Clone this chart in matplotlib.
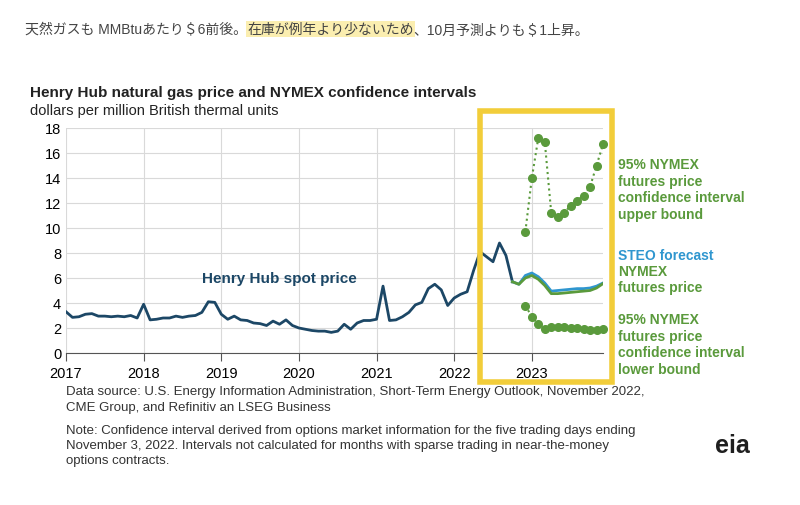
import numpy as np
import matplotlib
matplotlib.use("Agg")
import matplotlib.pyplot as plt
from matplotlib.patches import Rectangle

plt.rcParams['font.family'] = ['Liberation Sans', 'Noto Sans CJK JP', 'DejaVu Sans']

spot = [3.3, 2.85, 2.9, 3.1, 3.15, 2.95, 2.95, 2.9, 2.95, 2.9, 3.0, 2.8,
        3.9, 2.65, 2.7, 2.8, 2.8, 2.95, 2.85, 2.95, 3.0, 3.25, 4.1, 4.05,
        3.1, 2.7, 2.95, 2.65, 2.6, 2.4, 2.35, 2.2, 2.55, 2.3, 2.65, 2.2,
        2.0, 1.9, 1.8, 1.75, 1.75, 1.65, 1.75, 2.3, 1.9, 2.4, 2.6, 2.6,
        2.7, 5.35, 2.6, 2.65, 2.9, 3.25, 3.85, 4.05, 5.15, 5.5, 5.05, 3.8,
        4.4, 4.7, 4.9, 6.6, 8.1, 7.7, 7.3, 8.8, 7.8, 5.7]
steo = [5.7, 5.5, 6.2, 6.4, 6.1, 5.6, 4.95, 5.0, 5.05, 5.1, 5.15, 5.15, 5.2, 5.35, 5.6]
nymex = [5.7, 5.5, 6.0, 6.2, 5.9, 5.4, 4.75, 4.75, 4.8, 4.85, 4.9, 4.95, 5.0, 5.2, 5.55]
upper = [9.7, 14.0, 17.2, 16.9, 11.2, 10.9, 11.2, 11.8, 12.2, 12.6, 13.3, 15.0, 16.7]
lower = [3.8, 2.9, 2.3, 1.95, 2.05, 2.05, 2.05, 2.0, 2.0, 1.9, 1.85, 1.85, 1.9]
year_ticks = [2017, 2018, 2019, 2020, 2021, 2022, 2023]

t_spot = 2017 + np.arange(len(spot)) / 12
t_fc = 2017 + (len(spot) - 1 + np.arange(len(steo))) / 12
t_ci = 2017 + (len(spot) + 1 + np.arange(len(upper))) / 12

fig = plt.figure(figsize=(8, 5.06), dpi=100)
ax = fig.add_axes([66/800, 1-354/506, (603-66)/800, (354-129)/506])

navy = '#1c4766'
blue = '#2f96cf'
green = '#5a9a3c'
ax.plot(t_spot, spot, color=navy, lw=2)
ax.plot(t_fc, steo, color=blue, lw=2)
ax.plot(t_fc, nymex, color=green, lw=2)
ax.plot(t_ci, upper, color=green, ls=':', lw=1.5, marker='o', ms=5.5, clip_on=False)
ax.plot(t_ci, lower, color=green, ls=':', lw=1.5, marker='o', ms=5.5, clip_on=False)

ax.set_xlim(2017, 2017 + 83/12)
ax.set_ylim(0, 18)
ax.set_yticks(range(0, 19, 2))
ax.set_xticks(year_ticks)
ax.grid(color='#d9d9d9', lw=0.8)
ax.set_axisbelow(True)
for s in ['top', 'right', 'left']:
    ax.spines[s].set_visible(False)
ax.spines['bottom'].set_color('#555555')
ax.tick_params(axis='y', length=0, labelsize=10.5)
ax.tick_params(axis='x', length=6, labelsize=10.5, color='#555555')

ax.text(2019.75, 5.7, 'Henry Hub spot price', fontsize=11, fontweight='bold', color=navy, ha='center')

# header line with highlighted middle part
parts = ['天然ガスも MMBtuあたり＄6前後。', '在庫が例年より少ないため', '、10月予測よりも＄1上昇。']
fig.canvas.draw()
r = fig.canvas.get_renderer()
x = 25
for i, p in enumerate(parts):
    kw = dict(fontsize=10, color='#444444', va='center')
    if i == 1:
        kw['bbox'] = dict(facecolor='#fbeeb0', edgecolor='none', pad=1)
    t = fig.text(x/800, 1-30/506, p, **kw)
    x += t.get_window_extent(r).width

fig.text(30/800, 1-93/506, 'Henry Hub natural gas price and NYMEX confidence intervals',
         fontsize=11, fontweight='bold', color='#222222', va='center')
fig.text(30/800, 1-111/506, 'dollars per million British thermal units', fontsize=10.5, color='#222222', va='center')

lab = dict(fontsize=10, fontweight='bold', va='center', linespacing=1.25)
fig.text(618/800, 1-190/506, '95% NYMEX\nfutures price\nconfidence interval\nupper bound', color=green, **lab)
fig.text(618/800, 1-256/506, 'STEO forecast', color=blue, **lab)
fig.text(618/800, 1-280/506, 'NYMEX\nfutures price', color=green, **lab)
fig.text(618/800, 1-345/506, '95% NYMEX\nfutures price\nconfidence interval\nlower bound', color=green, **lab)

fig.text(66/800, 1-400/506, 'Data source: U.S. Energy Information Administration, Short-Term Energy Outlook, November 2022,\nCME Group, and Refinitiv an LSEG Business',
         fontsize=9.5, color='#333333', va='center', linespacing=1.35)
fig.text(66/800, 1-446/506, 'Note: Confidence interval derived from options market information for the five trading days ending\nNovember 3, 2022. Intervals not calculated for months with sparse trading in near-the-money\noptions contracts.',
         fontsize=9.5, color='#333333', va='center', linespacing=1.35)
fig.text(732/800, 1-446/506, 'eia', fontsize=18, fontweight='bold', color='#1f1f1f', ha='center', va='center')

fig.patches.append(Rectangle((480/800, 1-383/506), 132/800, 271/506, transform=fig.transFigure,
                             fill=False, edgecolor='#f2cd3a', lw=4))

fig.savefig('out.png', dpi=100)
